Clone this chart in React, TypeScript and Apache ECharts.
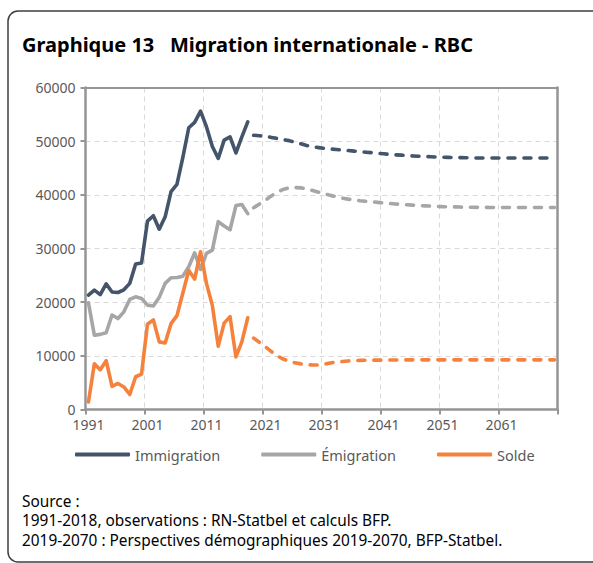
import React, { useEffect, useRef } from "react";
import * as echarts from "echarts";

const years: string[] = Array.from({ length: 80 }, (_, i) => String(1991 + i));
const yTicks = { min: 0, max: 60000, interval: 10000 };

// 1991-2018 observations
const immigrationObs = [21300, 22250, 21400, 23400, 21900, 21800, 22300, 23500, 27100, 27300,
  35100, 36100, 33600, 35900, 40600, 41950, 47000, 52500, 53500, 55600,
  52700, 49000, 46800, 50200, 50800, 47800, 50800, 53600];
const emigrationObs = [19900, 13850, 14000, 14300, 17600, 16950, 18200, 20500, 21000, 20700,
  19450, 19300, 20900, 23500, 24550, 24600, 24850, 26600, 29200, 26100,
  29100, 29700, 35000, 34200, 33500, 38000, 38200, 36500];
const soldeObs = [1400, 8500, 7400, 9100, 4300, 4850, 4200, 2800, 6100, 6600,
  15900, 16700, 12600, 12400, 16000, 17500, 21700, 25900, 24300, 29400,
  23500, 19400, 11800, 16100, 17300, 9800, 12600, 17100];

// 2019-2070 projections
const immigrationProj = [51100, 51000, 50900, 50700, 50500, 50300, 50100, 49800, 49500, 49200,
  48950, 48800, 48650, 48550, 48450, 48350, 48250, 48150, 48050, 47950,
  47850, 47750, 47650, 47550, 47450, 47400, 47300, 47250, 47200, 47150,
  47100, 47050, 47000, 46980, 46950, 46930, 46900, 46880, 46870, 46860,
  46850, 46850, 46850, 46850, 46850, 46850, 46850, 46850, 46850, 46850,
  46850, 46850];
const emigrationProj = [37600, 38300, 39000, 39800, 40500, 41000, 41300, 41350, 41300, 41100,
  40800, 40500, 40200, 39900, 39650, 39400, 39200, 39050, 38900, 38800,
  38700, 38600, 38500, 38400, 38300, 38200, 38150, 38080, 38000, 37950,
  37900, 37850, 37800, 37780, 37750, 37720, 37700, 37680, 37670, 37660,
  37650, 37650, 37650, 37650, 37650, 37650, 37650, 37650, 37650, 37650,
  37650, 37650];
const soldeProj = [13300, 12500, 11700, 10800, 10000, 9400, 9000, 8700, 8500, 8350,
  8300, 8300, 8450, 8650, 8850, 8950, 9050, 9100, 9150, 9180,
  9200, 9200, 9200, 9220, 9230, 9240, 9250, 9250, 9250, 9250,
  9250, 9250, 9250, 9250, 9250, 9250, 9250, 9250, 9250, 9250,
  9250, 9250, 9250, 9250, 9250, 9250, 9250, 9250, 9250, 9250,
  9250, 9250];

const names = ["Immigration", "Émigration", "Solde"];
const colors = ["#44546a", "#a6a6a6", "#f5823c"];
const titleParts = ["Graphique 13", "Migration internationale - RBC"];
const sourceLines = [
  "Source :",
  "1991-2018, observations : RN-Statbel et calculs BFP.",
  "2019-2070 : Perspectives démographiques 2019-2070, BFP-Statbel.",
];

const FONT = "Noto Sans";
const AXIS_GRAY = "#959595";

export default function App() {
  const ref = useRef<HTMLDivElement>(null);
  useEffect(() => {
    if (!ref.current) return;
    const chart = echarts.init(ref.current, undefined, { renderer: "svg" });
    const obs = [immigrationObs, emigrationObs, soldeObs];
    const proj = [immigrationProj, emigrationProj, soldeProj];
    const nObs = immigrationObs.length;
    const nProj = immigrationProj.length;
    const series: any[] = [];
    names.forEach((name, k) => {
      series.push({
        name,
        type: "line",
        xAxisIndex: 0,
        yAxisIndex: 0,
        data: [...obs[k], ...Array(nProj).fill(null)],
        showSymbol: false,
        symbol: "none",
        lineStyle: { color: colors[k], width: 3.6, cap: "round", join: "round" },
        itemStyle: { color: colors[k] },
        z: 3,
      });
      series.push({
        name: name + " proj",
        type: "line",
        xAxisIndex: 0,
        yAxisIndex: 0,
        data: [...Array(nObs).fill(null), ...proj[k]],
        showSymbol: false,
        symbol: "none",
        lineStyle: { color: colors[k], width: 3.6, type: [7, 9], cap: "round", join: "round" },
        itemStyle: { color: colors[k] },
        z: 3,
      });
    });
    chart.setOption({
      animation: false,
      textStyle: { fontFamily: FONT },
      grid: {
        left: 85.5,
        top: 87.5,
        right: 35.5,
        bottom: 153.5,
      },
      legend: {
        data: names.map((n, k) => ({ name: n, itemStyle: { color: colors[k] } })),
        left: 75,
        top: 447,
        padding: 0,
        icon: "roundRect",
        itemWidth: 55,
        itemHeight: 4,
        itemGap: 41,
        textStyle: { color: "#595959", fontSize: 14.5, fontFamily: FONT },
      },
      xAxis: [
        {
          type: "category",
          data: years,
          boundaryGap: true,
          axisLine: { lineStyle: { color: AXIS_GRAY, width: 2.5 } },
          axisTick: { show: true, interval: 9, length: 5, lineStyle: { color: AXIS_GRAY, width: 2 } },
          axisLabel: { interval: 9, color: "#595959", fontSize: 14, margin: 8, fontFamily: FONT },
          splitLine: { show: true, interval: 9, lineStyle: { color: "#d9d9d9", type: [5, 4], width: 1 } },
        },
        {
          type: "category",
          data: years,
          position: "top",
          boundaryGap: true,
          axisLine: { show: true, onZero: false, lineStyle: { color: AXIS_GRAY, width: 2 } },
          axisTick: { show: false },
          axisLabel: { show: false },
          splitLine: { show: false },
        },
      ],
      yAxis: [
        {
          type: "value",
          min: yTicks.min,
          max: yTicks.max,
          interval: yTicks.interval,
          axisLine: { show: true, lineStyle: { color: AXIS_GRAY, width: 2.5 } },
          axisTick: { show: true, length: 5, lineStyle: { color: AXIS_GRAY, width: 2 } },
          axisLabel: {
            color: "#595959",
            fontSize: 14,
            margin: 10,
            fontFamily: FONT,
            formatter: (v: number) => String(v),
          },
          splitLine: { show: true, lineStyle: { color: "#d9d9d9", type: [5, 4], width: 1 } },
        },
        {
          type: "value",
          min: yTicks.min,
          max: yTicks.max,
          interval: yTicks.interval,
          position: "right",
          axisLine: { show: true, onZero: false, lineStyle: { color: AXIS_GRAY, width: 2.5 } },
          axisTick: { show: false },
          axisLabel: { show: false },
          splitLine: { show: false },
        },
      ],
      graphic: [
        {
          type: "rect",
          shape: { x: 8, y: 11, width: 640, height: 551, r: 10 },
          style: { fill: "none", stroke: "#3f3f3f", lineWidth: 1.5 },
          silent: true,
        },
        {
          type: "text",
          x: 22,
          y: 44,
          style: { text: titleParts[0], fill: "#000", font: `bold 20px '${FONT}'`, textVerticalAlign: "middle" },
        },
        {
          type: "text",
          x: 170,
          y: 44,
          style: { text: titleParts[1], fill: "#000", font: `bold 20px '${FONT}'`, textVerticalAlign: "middle" },
        },
        ...sourceLines.map((t, i) => ({
          type: "text",
          x: 22,
          y: 501 + i * 19.5,
          style: { text: t, fill: "#000", font: `15.4px '${FONT}'`, textVerticalAlign: "middle" },
        })),
      ],
      series,
    });
    return () => chart.dispose();
  }, []);
  return (
    <div
      ref={ref}
      style={{ position: "absolute", left: 0, top: 0, width: 593, height: 563, background: "#fff" }}
    />
  );
}
